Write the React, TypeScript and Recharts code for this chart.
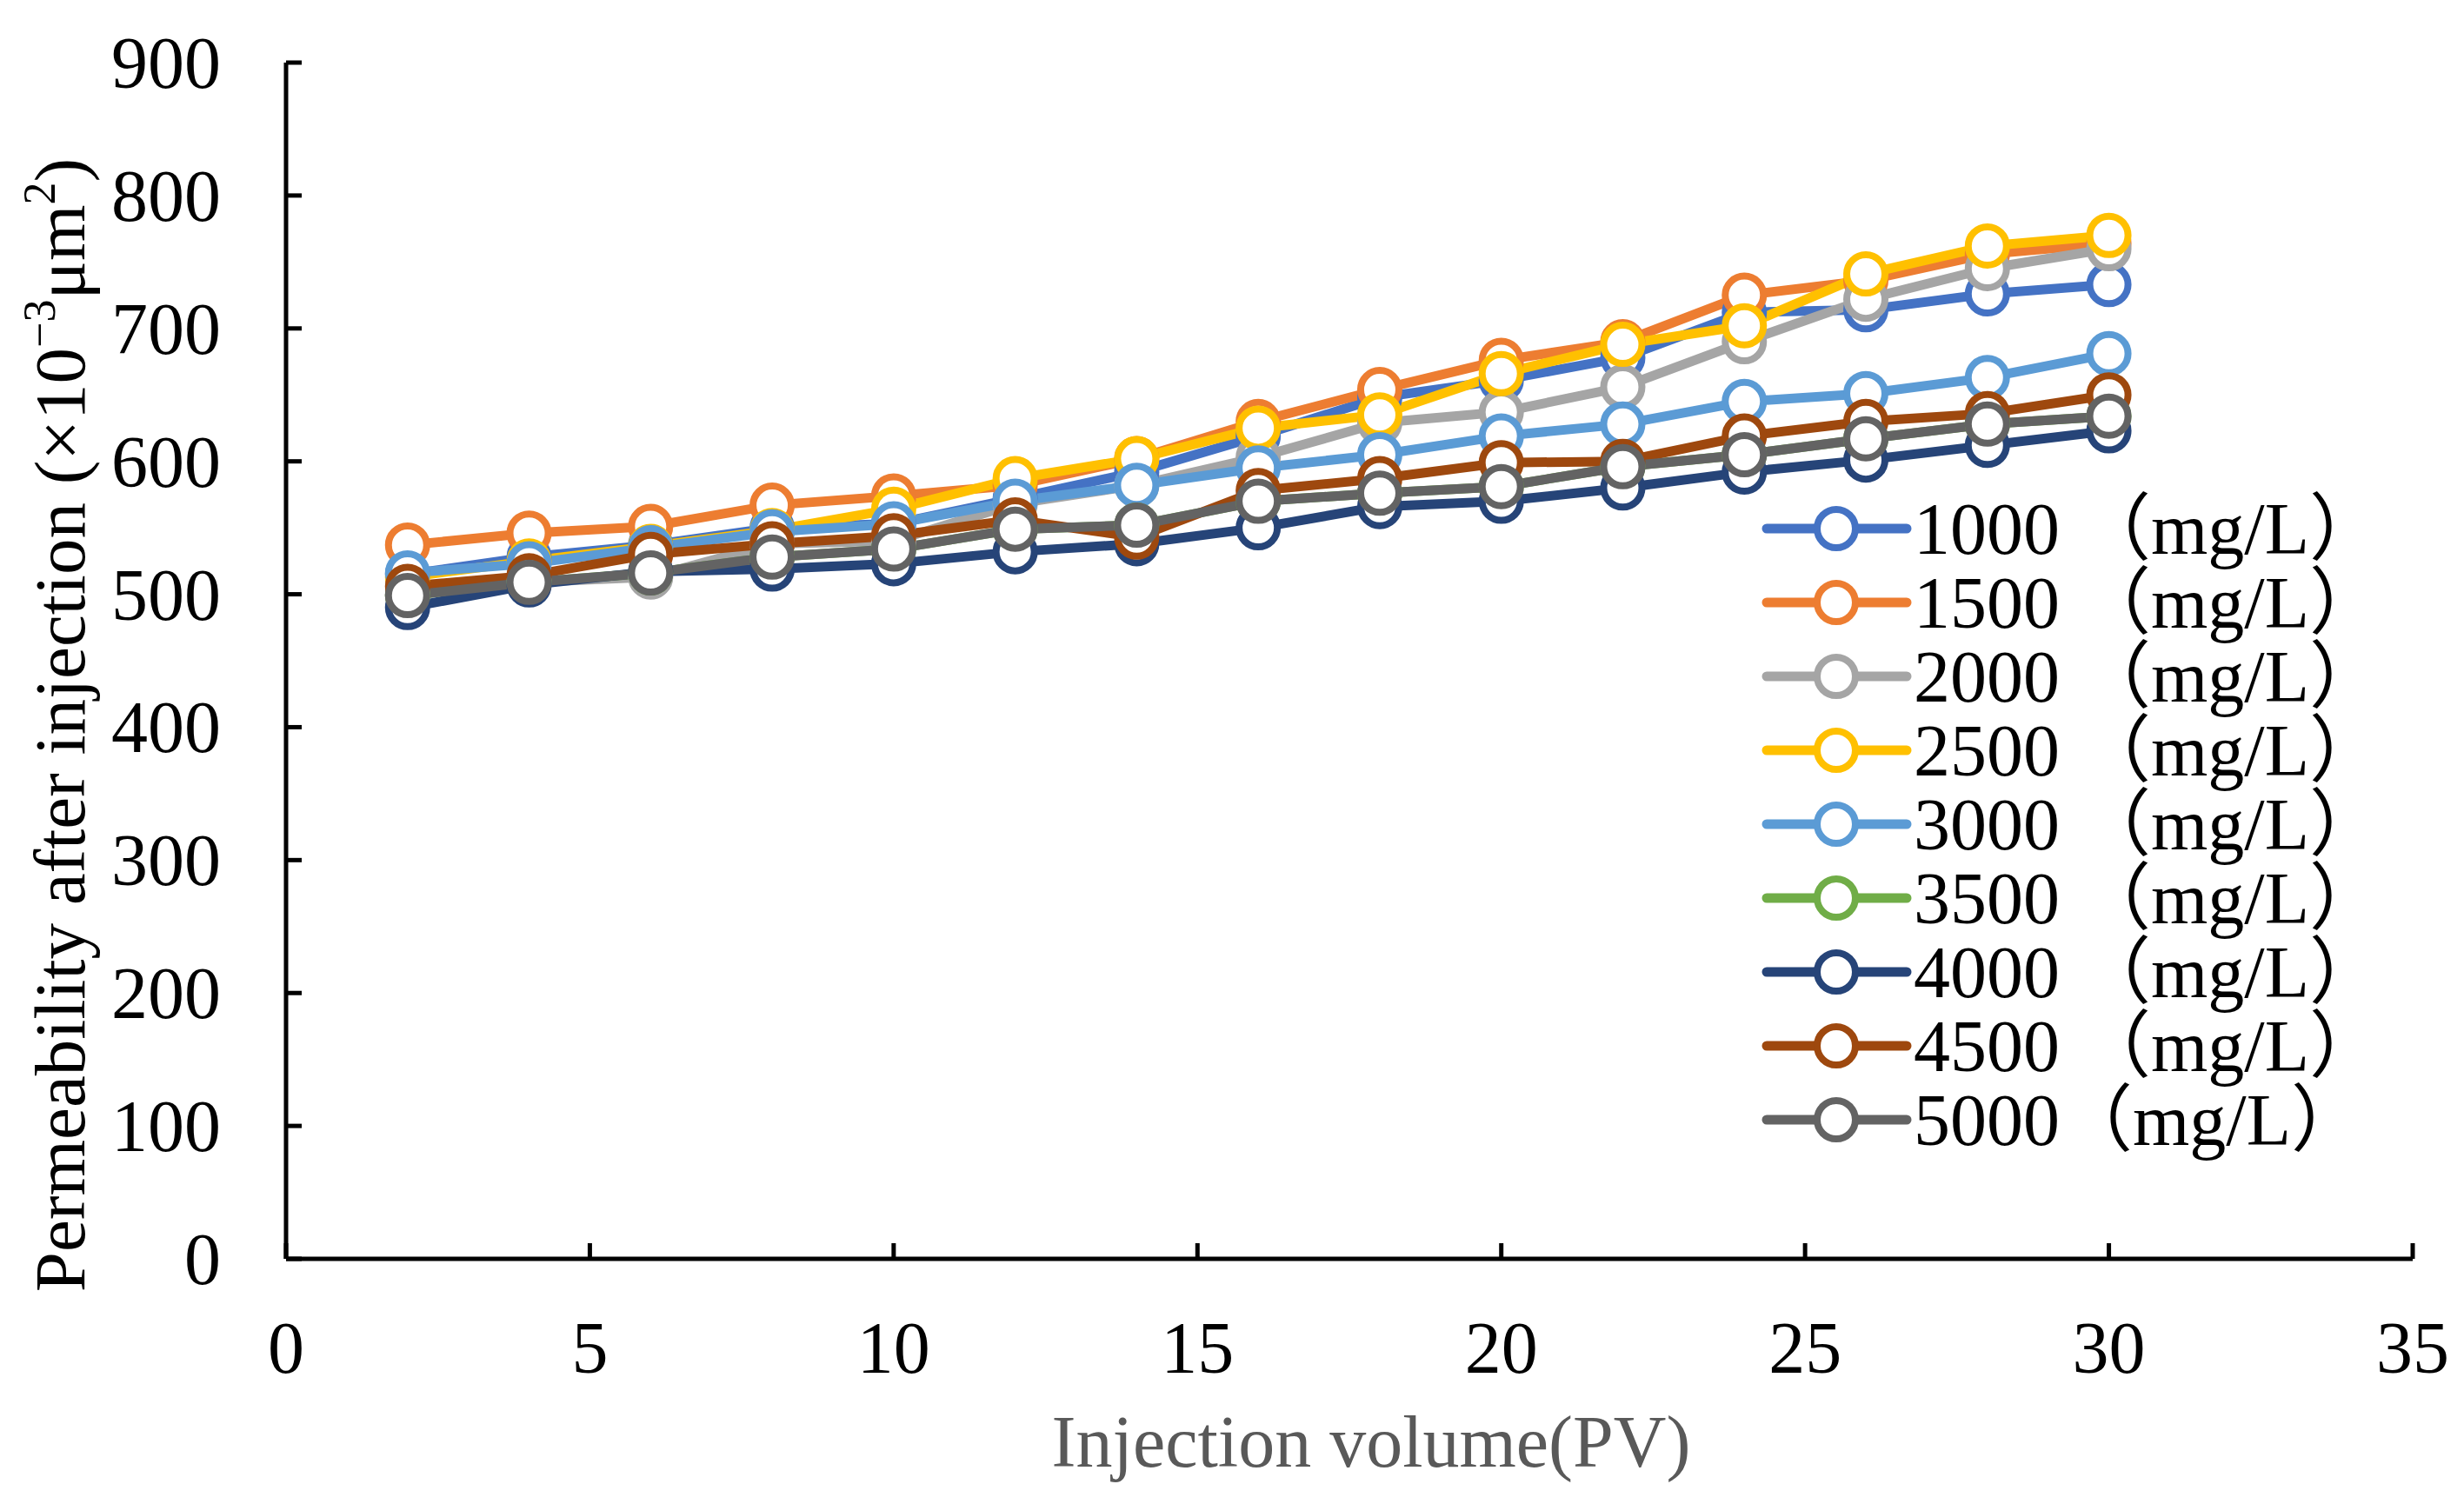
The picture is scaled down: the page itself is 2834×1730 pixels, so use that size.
import { LineChart, Line, XAxis, YAxis, Legend } from 'recharts';

const FONT = '"Liberation Serif", "Times New Roman", "Noto Sans CJK SC", serif';

const volume = [2, 4, 6, 8, 10, 12, 14, 16, 18, 20, 22, 24, 26, 28, 30];
const xTicks = [0, 5, 10, 15, 20, 25, 30, 35];
const yTicks = [0, 100, 200, 300, 400, 500, 600, 700, 800, 900];

const c1000 = [515, 528, 537, 550, 553, 572, 592, 619, 648, 661, 678, 712, 714, 726, 733];
const c1500 = [537, 546, 551, 567, 574, 582, 602, 630, 654, 676, 690, 725, 736, 756, 764];
const c2000 = [500, 509, 513, 538, 540, 568, 582, 603, 629, 637, 656, 690, 722, 745, 760];
const c2500 = [513, 525, 536, 548, 564, 587, 602, 625, 635, 666, 688, 702, 741, 762, 770];
const c3000 = [516, 523, 535, 547, 553, 570, 582, 595, 605, 619, 628, 645, 651, 663, 681];
const c3500 = [499, 509, 516, 528, 534, 549, 552, 570, 576, 581, 596, 605, 617, 628, 634];
const c4000 = [490, 507, 517, 519, 523, 532, 538, 550, 566, 570, 580, 592, 601, 612, 623];
const c4500 = [506, 514, 530, 538, 544, 556, 543, 578, 587, 599, 600, 619, 630, 636, 650];
const c5000 = [499, 509, 516, 528, 534, 549, 552, 570, 576, 581, 596, 605, 617, 628, 634];

const SERIES = [
  { key: 'c1000', label: '1000 （mg/L）', color: '#4472C4', values: c1000 },
  { key: 'c1500', label: '1500 （mg/L）', color: '#ED7D31', values: c1500 },
  { key: 'c2000', label: '2000 （mg/L）', color: '#A5A5A5', values: c2000 },
  { key: 'c2500', label: '2500 （mg/L）', color: '#FFC000', values: c2500 },
  { key: 'c3000', label: '3000 （mg/L）', color: '#5B9BD5', values: c3000 },
  { key: 'c3500', label: '3500 （mg/L）', color: '#70AD47', values: c3500 },
  { key: 'c4000', label: '4000 （mg/L）', color: '#264478', values: c4000 },
  { key: 'c4500', label: '4500 （mg/L）', color: '#9E480E', values: c4500 },
  { key: 'c5000', label: '5000（mg/L）', color: '#636363', values: c5000 },
];

const data = volume.map((pv, i) => {
  const row: Record<string, number> = { pv };
  SERIES.forEach((s) => (row[s.key] = s.values[i]));
  return row;
});

const TICK_FS = 84;

function XTick({ x, y, payload }: any) {
  return (
    <g>
      <line x1={x} y1={y} x2={x} y2={y - 18} stroke="#000" strokeWidth={5} />
      <text x={x} y={y + 131} textAnchor="middle" fontFamily={FONT} fontSize={TICK_FS} fill="#000">
        {payload.value}
      </text>
    </g>
  );
}

function YTick({ x, y, payload }: any) {
  return (
    <g>
      <line x1={x} y1={y} x2={x + 18} y2={y} stroke="#000" strokeWidth={5} />
      <text x={x - 75} y={y + 29} textAnchor="end" fontFamily={FONT} fontSize={TICK_FS} fill="#000">
        {payload.value}
      </text>
    </g>
  );
}

function YTitle() {
  return (
    <text
      x={97}
      y={834}
      transform="rotate(-90, 97, 834)"
      textAnchor="middle"
      fontFamily={FONT}
      fontSize={83}
      fill="#000"
    >
      Permeability after injection (×10
      <tspan fontSize={52} dy={-34}>−3</tspan>
      <tspan dy={34}>μm</tspan>
      <tspan fontSize={52} dy={-34}>2</tspan>
      <tspan dy={34}>)</tspan>
    </text>
  );
}

function XTitle() {
  return (
    <text x={1577} y={1687} textAnchor="middle" fontFamily={FONT} fontSize={TICK_FS} fill="#595959">
      Injection volume(PV)
    </text>
  );
}

function LegendBox() {
  return (
    <div style={{ fontFamily: FONT, fontSize: TICK_FS, color: '#000' }}>
      {SERIES.map((s) => (
        <div key={s.key} style={{ display: 'flex', alignItems: 'center', height: 85, lineHeight: '85px' }}>
          <svg width={173} height={85} style={{ flex: 'none' }}>
            <line x1={6} y1={42} x2={167} y2={42} stroke={s.color} strokeWidth={11} strokeLinecap="round" />
            <circle cx={86} cy={42} r={22} fill="#fff" stroke={s.color} strokeWidth={8} />
          </svg>
          <span style={{ marginLeft: 2, whiteSpace: 'pre' }}>{s.label}</span>
        </div>
      ))}
    </div>
  );
}

export default function App() {
  return (
    <div style={{ position: 'absolute', left: 0, top: 0, width: 2834, height: 1730, background: '#fff' }}>
      <LineChart width={2834} height={1730} data={data} margin={{ top: 72, right: 59, left: 0, bottom: 0 }}>
        <XAxis
          dataKey="pv"
          type="number"
          domain={[0, 35]}
          ticks={xTicks}
          height={282}
          axisLine={{ stroke: '#000', strokeWidth: 5 }}
          tickLine={false}
          tickSize={0}
          tickMargin={0}
          tick={<XTick />}
          label={<XTitle />}
        />
        <YAxis
          type="number"
          domain={[0, 900]}
          ticks={yTicks}
          width={329}
          axisLine={{ stroke: '#000', strokeWidth: 5 }}
          tickLine={false}
          tickSize={0}
          tickMargin={0}
          tick={<YTick />}
          label={<YTitle />}
        />
        <Legend
          layout="vertical"
          align="center"
          verticalAlign="middle"
          content={<LegendBox />}
          wrapperStyle={{ left: 2026, top: 566, width: 760, height: 780 }}
        />
        {SERIES.map((s) => (
          <Line
            key={s.key}
            dataKey={s.key}
            stroke={s.color}
            strokeWidth={11}
            strokeLinejoin="round"
            dot={{ r: 22, fill: '#fff', stroke: s.color, strokeWidth: 8 }}
            activeDot={false}
            isAnimationActive={false}
          />
        ))}
      </LineChart>
    </div>
  );
}
